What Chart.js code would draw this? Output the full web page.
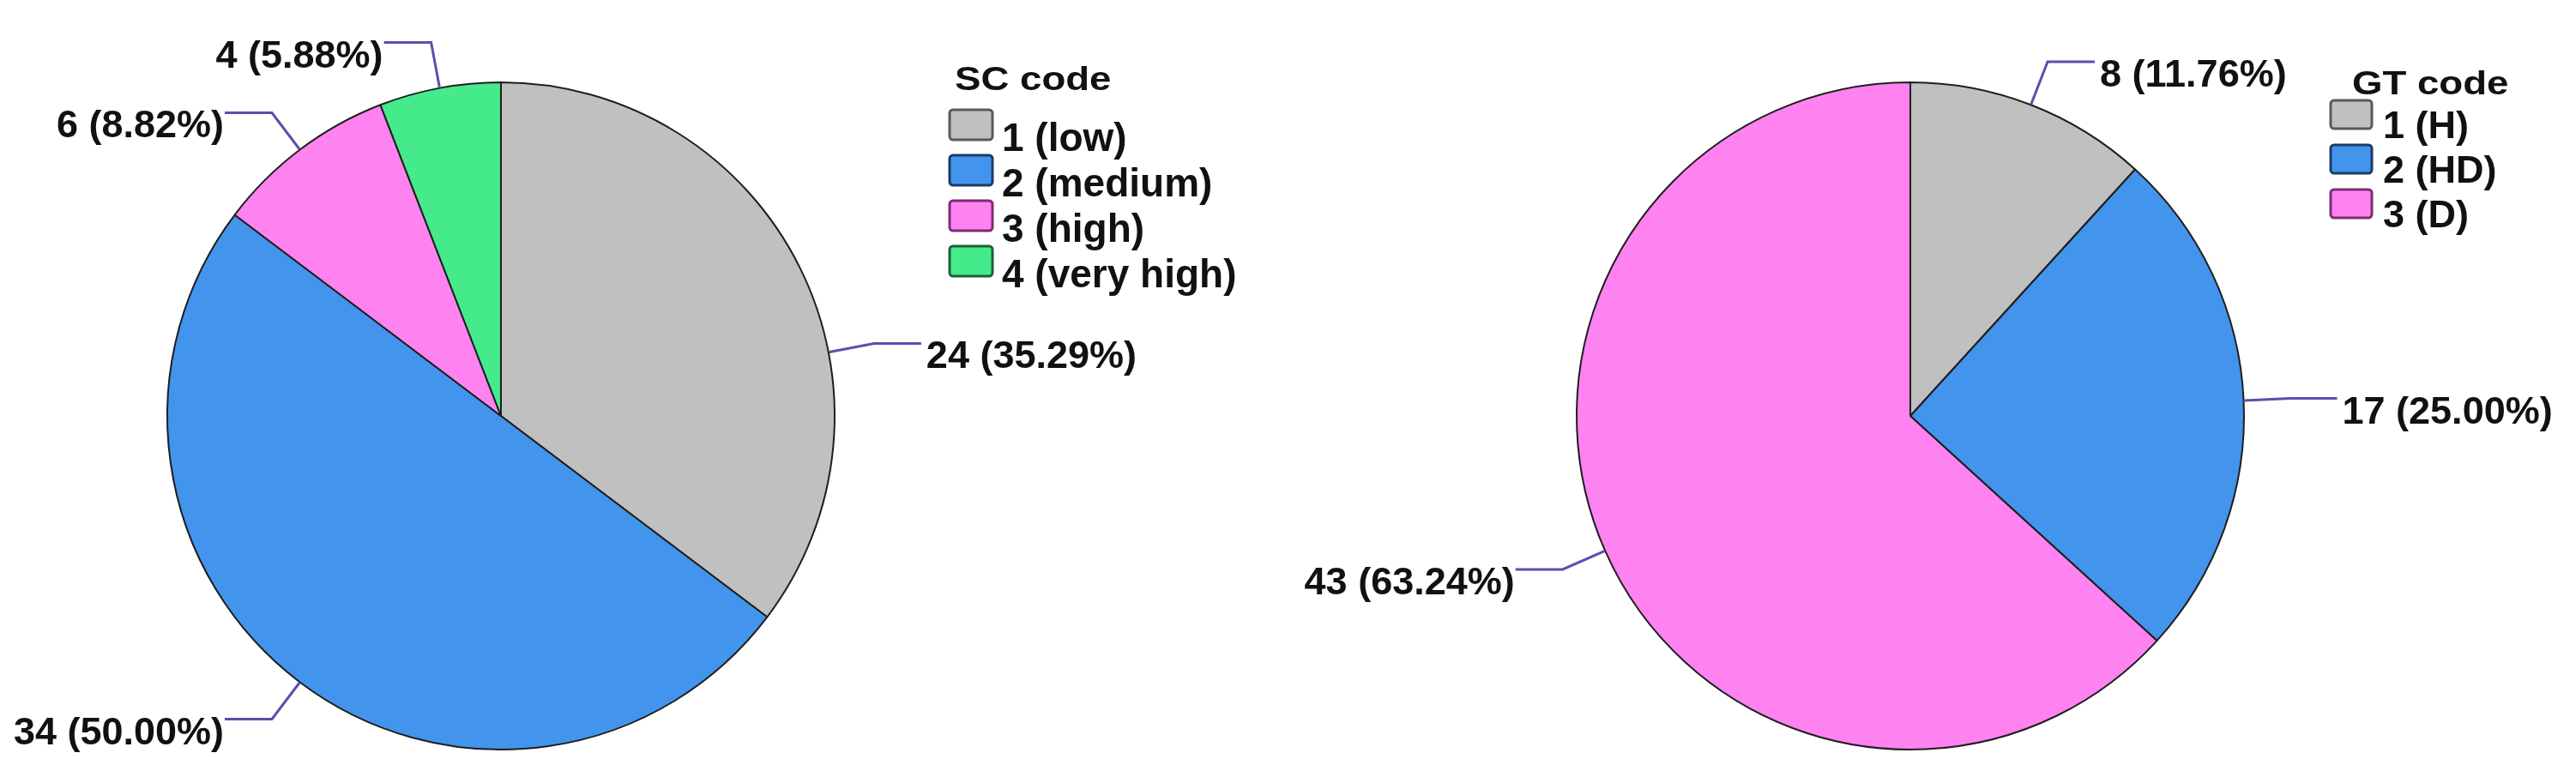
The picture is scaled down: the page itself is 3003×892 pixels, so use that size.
<!DOCTYPE html>
<html>
<head>
<meta charset="utf-8">
<script src="https://cdn.jsdelivr.net/npm/chart.js@4"></script>
<style>
  body { margin: 0; background: #fff; width: 3003px; height: 892px; overflow: hidden; position: relative; }
  canvas { position: absolute; top: 0; }
  #sc-chart { left: 0; }
  #gt-chart { left: 1500px; }
</style>
</head>
<body>
<canvas id="sc-chart" width="1500" height="892"></canvas>
<canvas id="gt-chart" width="1503" height="892"></canvas>
<script>
// SC code counts
var scLabels = ['1 (low)', '2 (medium)', '3 (high)', '4 (very high)'];
var scCounts = [24, 34, 6, 4];

// GT code counts
var gtLabels = ['1 (H)', '2 (HD)', '3 (D)'];
var gtCounts = [8, 17, 43];

var fillColors = ['#c0c0c0', '#4394ec', '#ff82f1', '#45ea8b'];
var boxBorders = ['#595959', '#1c3b68', '#7a2d74', '#1f5f36'];
var FONT = '"Liberation Sans", Arial, sans-serif';

function pctText(v, total) {
  return v + ' (' + (v / total * 100).toFixed(2) + '%)';
}

// leader lines + "n (pct%)" labels, spss style
var calloutPlugin = {
  id: 'callouts',
  afterDatasetsDraw: function(chart, args, opts) {
    var c = chart.ctx;
    var meta = chart.getDatasetMeta(0);
    var data = chart.data.datasets[0].data;
    var total = data.reduce(function(a, b) { return a + b; }, 0);
    c.save();
    c.strokeStyle = '#5a4fae';
    c.lineWidth = 3;
    c.font = 'bold 45px ' + FONT;
    c.fillStyle = '#111';
    c.textBaseline = 'alphabetic';
    meta.data.forEach(function(arc, i) {
      var a = (arc.startAngle + arc.endAngle) / 2;
      if (opts.angles && opts.angles[i] != null) a = opts.angles[i] * Math.PI / 180 - Math.PI / 2;
      var r = arc.outerRadius + 1;
      var x0 = arc.x + r * Math.cos(a), y0 = arc.y + r * Math.sin(a);
      var x1 = x0 + opts.elbow * Math.cos(a), y1 = y0 + opts.elbow * Math.sin(a);
      var side = Math.cos(a) >= 0 ? 1 : -1;
      var x2 = x1 + side * opts.run;
      c.beginPath();
      c.moveTo(x0, y0);
      c.lineTo(x1, y1);
      c.lineTo(x2, y1);
      c.stroke();
      c.textAlign = side > 0 ? 'left' : 'right';
      c.fillText(pctText(data[i], total), x2 + (side > 0 ? 6 : -1), y1 + 29);
    });
    c.restore();
  }
};

// legend box on the right of each pie
var legendPlugin = {
  id: 'sideLegend',
  afterDraw: function(chart, args, o) {
    var c = chart.ctx;
    var ds = chart.data.datasets[0];
    c.save();
    c.textBaseline = 'alphabetic';
    c.textAlign = 'left';
    c.fillStyle = '#111';
    c.font = 'bold ' + o.titleSize + 'px ' + FONT;
    c.save();
    c.translate(o.titleX, o.titleY);
    c.scale(o.titleStretch, 1);
    c.fillText(o.title, 0, 0);
    c.restore();
    chart.data.labels.forEach(function(lab, i) {
      var top = o.boxTop + i * o.pitch;
      c.beginPath();
      c.roundRect(o.boxX, top, o.boxW, o.boxH, 4);
      c.fillStyle = ds.backgroundColor[i];
      c.fill();
      c.lineWidth = 3;
      c.strokeStyle = boxBorders[i];
      c.stroke();
      c.fillStyle = '#111';
      c.font = 'bold ' + o.itemSize + 'px ' + FONT;
      c.fillText(lab, o.textX, top + o.textDy);
    });
    c.restore();
  }
};

function makePie(id, labels, counts, pad, callouts, legend) {
  return new Chart(document.getElementById(id), {
    type: 'pie',
    data: {
      labels: labels,
      datasets: [{
        data: counts,
        backgroundColor: fillColors.slice(0, counts.length),
        borderColor: '#1e1e1e',
        borderWidth: 2
      }]
    },
    options: {
      responsive: false,
      animation: false,
      radius: 389,
      layout: { padding: pad },
      plugins: {
        legend: { display: false },
        tooltip: { enabled: false },
        callouts: callouts,
        sideLegend: legend
      }
    },
    plugins: [calloutPlugin, legendPlugin]
  });
}

makePie('sc-chart', scLabels, scCounts,
  { left: 0, right: 332, top: 78, bottom: 0 },
  { elbow: 53, run: 55, angles: [79, null, null, null] },
  { title: 'SC code', titleX: 1113, titleY: 105, titleSize: 38, titleStretch: 1.2,
    boxX: 1107, boxTop: 128, boxW: 50, boxH: 35, pitch: 53,
    textX: 1168, textDy: 48, itemSize: 46 });

makePie('gt-chart', gtLabels, gtCounts,
  { left: 0, right: 49, top: 78, bottom: 0 },
  { elbow: 53, run: 55 },
  { title: 'GT code', titleX: 1242, titleY: 110, titleSize: 38, titleStretch: 1.2,
    boxX: 1217, boxTop: 117, boxW: 48, boxH: 33, pitch: 52,
    textX: 1278, textDy: 44, itemSize: 45 });
</script>
</body>
</html>
